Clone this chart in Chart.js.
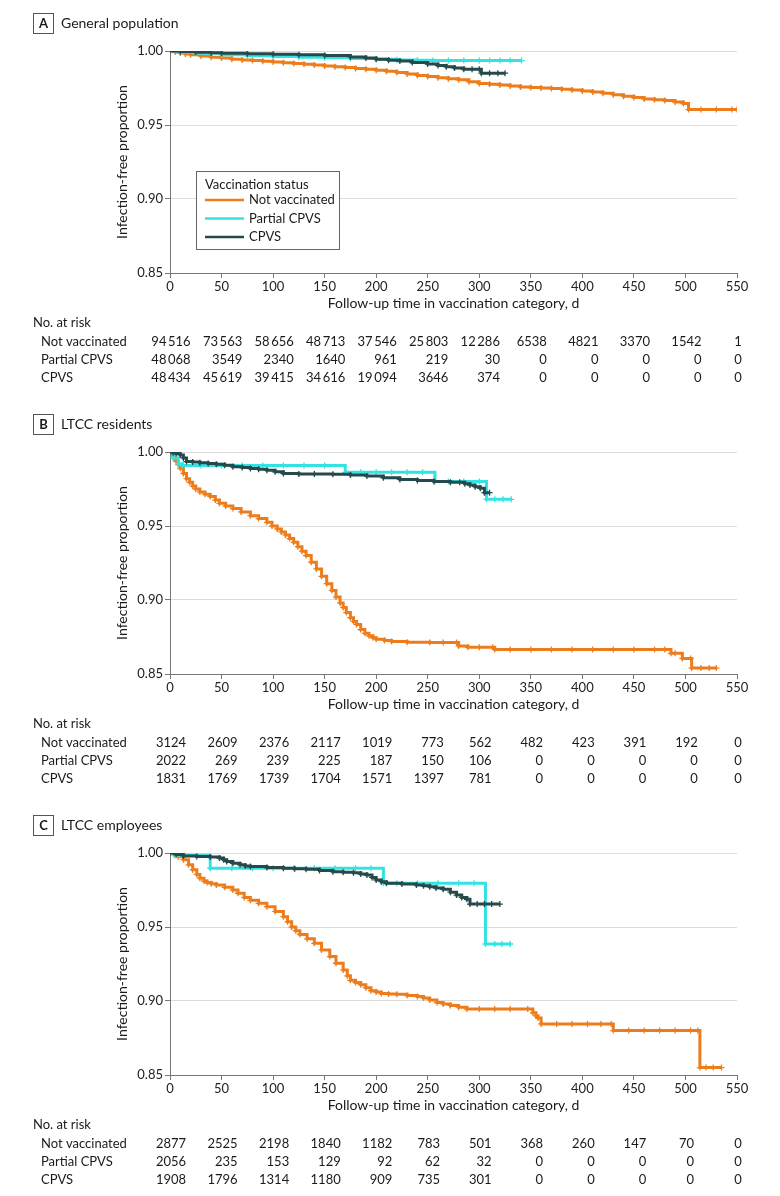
<!DOCTYPE html>
<html>
<head>
<meta charset="utf-8">
<script src="https://cdn.jsdelivr.net/npm/chart.js@4.4.1/dist/chart.umd.min.js"></script>
<style>
  html, body { margin: 0; padding: 0; background: #fff; overflow: hidden; }
  .panel { position: absolute; left: 0; width: 780px; height: 394px; }
</style>
</head>
<body>
<div class="panel" style="top:0"><canvas id="panelA"></canvas></div>
<div class="panel" style="top:401px"><canvas id="panelB"></canvas></div>
<div class="panel" style="top:802px"><canvas id="panelC"></canvas></div>
<script>
const groupLabels = ["Not vaccinated", "Partial CPVS", "CPVS"];
const groupColors = ["#ED7D1C", "#33E3E3", "#264A4B"];
const dayTicks = [0, 50, 100, 150, 200, 250, 300, 350, 400, 450, 500, 550];

// A - general population
const genNotVacDays = [0, 5, 10, 15, 20, 30, 40, 50, 60, 70, 80, 90, 100, 110, 120, 130, 140, 150, 160, 170, 180, 190, 200, 210, 220, 230, 240, 250, 260, 270, 280, 290, 300, 310, 320, 330, 340, 350, 360, 370, 380, 390, 400, 410, 420, 430, 440, 450, 460, 470, 480, 490, 498, 503, 515, 530, 545, 550];
const genNotVacProp = [1, 0.9993, 0.9986, 0.998, 0.9975, 0.9966, 0.9958, 0.9952, 0.9945, 0.994, 0.9935, 0.993, 0.9925, 0.992, 0.9915, 0.991, 0.9905, 0.9899, 0.9893, 0.9888, 0.9882, 0.9876, 0.987, 0.9863, 0.9855, 0.9845, 0.9835, 0.9828, 0.982, 0.9812, 0.9805, 0.9793, 0.978, 0.9775, 0.977, 0.9763, 0.9757, 0.9753, 0.975, 0.9746, 0.9742, 0.9737, 0.973, 0.9723, 0.9715, 0.9705, 0.9695, 0.9685, 0.9675, 0.967, 0.9665, 0.9655, 0.9645, 0.9604, 0.9604, 0.9604, 0.9604, 0.9604];
const genPartialDays = [0, 10, 25, 50, 75, 100, 125, 150, 175, 200, 220, 240, 255, 270, 285, 300, 310, 320, 330, 341];
const genPartialProp = [1, 0.9993, 0.9985, 0.9975, 0.9968, 0.9962, 0.9958, 0.9955, 0.995, 0.9945, 0.994, 0.9937, 0.9935, 0.9935, 0.9935, 0.9935, 0.9935, 0.9935, 0.9935, 0.9935];
const genCpvsDays = [0, 10, 25, 40, 50, 75, 100, 125, 150, 175, 190, 200, 212, 223, 235, 250, 260, 268, 276, 285, 293, 300, 302, 310, 318, 325];
const genCpvsProp = [1, 0.9997, 0.9992, 0.9988, 0.9985, 0.9981, 0.9978, 0.9974, 0.997, 0.996, 0.9952, 0.9945, 0.9938, 0.9932, 0.9922, 0.9912, 0.9902, 0.9893, 0.9885, 0.9876, 0.9876, 0.9876, 0.985, 0.985, 0.985, 0.985];
const genRiskNotVac = [94516, 73563, 58656, 48713, 37546, 25803, 12286, 6538, 4821, 3370, 1542, 1];
const genRiskPartial = [48068, 3549, 2340, 1640, 961, 219, 30, 0, 0, 0, 0, 0];
const genRiskCpvs = [48434, 45619, 39415, 34616, 19094, 3646, 374, 0, 0, 0, 0, 0];

// B - LTCC residents
const resNotVacDays = [0, 2, 4, 6, 8, 10, 13, 16, 19, 22, 25, 29, 34, 39, 44, 48, 54, 61, 69, 78, 86, 94, 99, 104, 108, 112, 116, 120, 124, 128, 132, 137, 142, 147, 152, 157, 161, 165, 168, 171, 175, 178, 181, 185, 189, 193, 197, 200, 208, 215, 230, 252, 265, 278, 280, 289, 300, 313, 315, 330, 350, 370, 390, 410, 430, 450, 470, 480, 486, 490, 497, 505, 506, 515, 523, 530];
const resNotVacProp = [1, 0.998, 0.996, 0.9937, 0.9915, 0.989, 0.9855, 0.982, 0.9795, 0.977, 0.975, 0.973, 0.9715, 0.97, 0.9675, 0.9653, 0.9635, 0.9618, 0.9595, 0.957, 0.955, 0.9525, 0.95, 0.948, 0.946, 0.944, 0.9415, 0.939, 0.936, 0.933, 0.93, 0.9255, 0.921, 0.916, 0.911, 0.9065, 0.902, 0.898, 0.895, 0.8915, 0.888, 0.8855, 0.8835, 0.88, 0.8775, 0.8758, 0.8745, 0.8735, 0.8727, 0.872, 0.8715, 0.8712, 0.8712, 0.8712, 0.869, 0.868, 0.868, 0.868, 0.8666, 0.8666, 0.8666, 0.8666, 0.8666, 0.8666, 0.8666, 0.8666, 0.8666, 0.8666, 0.864, 0.864, 0.8605, 0.8605, 0.854, 0.854, 0.854, 0.854];
const resPartialDays = [0, 3, 8, 12, 30, 50, 70, 90, 110, 130, 150, 170, 185, 200, 215, 230, 245, 257, 270, 285, 300, 307, 315, 323, 331];
const resPartialProp = [1, 0.996, 0.992, 0.9908, 0.9908, 0.9908, 0.9908, 0.9908, 0.9908, 0.9908, 0.9908, 0.9863, 0.9863, 0.9863, 0.9863, 0.9863, 0.9863, 0.98, 0.98, 0.98, 0.98, 0.968, 0.968, 0.968, 0.968];
const resCpvsDays = [0, 3, 6, 10, 13, 16, 22, 29, 37, 45, 53, 61, 70, 78, 86, 94, 102, 110, 125, 140, 158, 175, 191, 207, 223, 240, 256, 272, 281, 286, 291, 296, 301, 305, 310];
const resCpvsProp = [1, 0.9995, 0.999, 0.998, 0.996, 0.9935, 0.9932, 0.9928, 0.9923, 0.9917, 0.991, 0.99, 0.9895, 0.9888, 0.9883, 0.9877, 0.9866, 0.9854, 0.9852, 0.9851, 0.985, 0.9845, 0.9837, 0.9826, 0.9815, 0.9808, 0.9801, 0.9795, 0.9795, 0.9786, 0.9777, 0.9766, 0.9755, 0.9725, 0.9725];
const resRiskNotVac = [3124, 2609, 2376, 2117, 1019, 773, 562, 482, 423, 391, 192, 0];
const resRiskPartial = [2022, 269, 239, 225, 187, 150, 106, 0, 0, 0, 0, 0];
const resRiskCpvs = [1831, 1769, 1739, 1704, 1571, 1397, 781, 0, 0, 0, 0, 0];

// C - LTCC employees
const empNotVacDays = [0, 4, 8, 13, 18, 22, 26, 29, 33, 36, 40, 45, 53, 61, 66, 72, 78, 86, 94, 102, 110, 114, 118, 122, 126, 133, 140, 147, 155, 161, 168, 172, 175, 180, 185, 190, 195, 200, 205, 212, 220, 230, 240, 246, 252, 259, 265, 272, 280, 288, 300, 315, 330, 347, 352, 355, 357, 360, 375, 390, 405, 418, 428, 430, 445, 460, 475, 490, 505, 512, 514, 520, 527, 535];
const empNotVacProp = [1, 0.9988, 0.9975, 0.9955, 0.992, 0.9887, 0.9855, 0.983, 0.981, 0.98, 0.9792, 0.9784, 0.9768, 0.975, 0.9728, 0.97, 0.968, 0.966, 0.9637, 0.9605, 0.957, 0.9535, 0.95, 0.9475, 0.945, 0.942, 0.939, 0.9345, 0.93, 0.9255, 0.921, 0.917, 0.914, 0.9125, 0.911, 0.909, 0.907, 0.906, 0.905, 0.9048, 0.9045, 0.9038, 0.903, 0.902, 0.9007, 0.899, 0.898, 0.897, 0.8958, 0.8946, 0.8946, 0.8946, 0.8946, 0.8946, 0.892, 0.89, 0.8885, 0.8845, 0.8845, 0.8845, 0.8845, 0.8845, 0.8845, 0.88, 0.88, 0.88, 0.88, 0.88, 0.88, 0.88, 0.855, 0.855, 0.855, 0.855];
const empPartialDays = [0, 5, 15, 25, 39, 60, 80, 100, 120, 140, 160, 180, 195, 207, 220, 240, 260, 280, 295, 306, 315, 322, 330];
const empPartialProp = [1, 0.9985, 0.9985, 0.9985, 0.9897, 0.9897, 0.9897, 0.9897, 0.9897, 0.9897, 0.9897, 0.9897, 0.9897, 0.9795, 0.9795, 0.9795, 0.9795, 0.9795, 0.9795, 0.9385, 0.9385, 0.9385, 0.9385];
const empCpvsDays = [0, 6, 13, 26, 39, 48, 52, 55, 61, 68, 73, 78, 94, 110, 121, 132, 145, 158, 168, 178, 185, 191, 196, 200, 205, 210, 225, 239, 246, 252, 258, 265, 272, 278, 283, 288, 291, 298, 305, 312, 320];
const empCpvsProp = [1, 0.999, 0.998, 0.9977, 0.9973, 0.9966, 0.9955, 0.9943, 0.993, 0.992, 0.9913, 0.9908, 0.9902, 0.9897, 0.9894, 0.989, 0.9882, 0.9874, 0.987, 0.9867, 0.9858, 0.9851, 0.9835, 0.9818, 0.9806, 0.9795, 0.979, 0.9784, 0.9778, 0.9772, 0.9763, 0.9755, 0.9735, 0.9716, 0.97, 0.9687, 0.9655, 0.9655, 0.9655, 0.9655, 0.9655];
const empRiskNotVac = [2877, 2525, 2198, 1840, 1182, 783, 501, 368, 260, 147, 70, 0];
const empRiskPartial = [2056, 235, 153, 129, 92, 62, 32, 0, 0, 0, 0, 0];
const empRiskCpvs = [1908, 1796, 1314, 1180, 909, 735, 301, 0, 0, 0, 0, 0];

const FONT = "Lato, 'Open Sans', sans-serif";
const ROW_Y = [69, 87, 105];

function fmt(v) {
  // thin space for 5 digit numbers, like the journal style
  return v >= 10000 ? String(v).replace(/(\d)(?=(\d{3})+$)/g, "$1\u2009") : String(v);
}

function curve(i, days, prop) {
  return {
    label: groupLabels[i],
    data: days.map((d, k) => ({ x: d, y: prop[k] })),
    borderColor: groupColors[i],
    backgroundColor: groupColors[i],
    borderWidth: 3,
    stepped: "before",
    pointStyle: "cross",
    pointRadius: 3,
    pointBorderWidth: 1.3,
    pointBorderColor: groupColors[i],
    fill: false,
    order: 3 - i,
  };
}

const panelExtras = {
  id: "panelExtras",
  afterDraw(chart, args, opts) {
    const ctx = chart.ctx;
    const xs = chart.scales.x;
    const bottom = chart.chartArea.bottom;
    ctx.save();
    ctx.fillStyle = "#1a1a1a";
    ctx.textBaseline = "middle";

    // panel letter + title
    ctx.strokeStyle = "#555";
    ctx.lineWidth = 1;
    ctx.strokeRect(33.5, 13.5, 20, 20);
    ctx.font = "bold 13px " + FONT;
    ctx.textAlign = "center";
    ctx.fillText(opts.letter, 43.5, 24);
    ctx.font = "14px " + FONT;
    ctx.textAlign = "left";
    ctx.fillText(opts.title, 61, 23);

    // number at risk
    ctx.font = "13px " + FONT;
    ctx.fillText("No. at risk", 33, bottom + 50);
    opts.risk.forEach((row, r) => ctx.fillText(groupLabels[r], 41, bottom + ROW_Y[r]));
    ctx.textAlign = "right";
    dayTicks.forEach((d, c) => {
      const cells = opts.risk.map(row => fmt(row[c]));
      const w = Math.max(...cells.map(s => ctx.measureText(s).width));
      const right = xs.getPixelForValue(d) + w / 2 + 1;
      cells.forEach((s, r) => ctx.fillText(s, right, bottom + ROW_Y[r]));
    });

    // legend (panel A only)
    if (opts.legend) {
      const lx = 196, ly = 171;
      ctx.fillStyle = "#fff";
      ctx.fillRect(lx, ly, 143, 78);
      ctx.strokeStyle = "#666";
      ctx.strokeRect(lx + 0.5, ly + 0.5, 143, 78);
      ctx.fillStyle = "#1a1a1a";
      ctx.textAlign = "left";
      ctx.font = "13px " + FONT;
      ctx.fillText("Vaccination status", lx + 9, ly + 14);
      groupLabels.forEach((g, i) => {
        const y = ly + 29 + i * 18.5;
        ctx.strokeStyle = groupColors[i];
        ctx.lineWidth = 2.5;
        ctx.beginPath();
        ctx.moveTo(lx + 9, y);
        ctx.lineTo(lx + 48, y);
        ctx.stroke();
        ctx.fillText(g, lx + 53, y);
      });
    }
    ctx.restore();
  },
};

function makePanel(id, letter, title, series, risk, legend) {
  new Chart(document.getElementById(id), {
    type: "line",
    data: {
      datasets: series.map((s, i) => curve(i, s[0], s[1])),
    },
    options: {
      responsive: true,
      maintainAspectRatio: false,
      animation: false,
      layout: { padding: { top: 51, left: 114, right: 43, bottom: 82 } },
      plugins: {
        legend: { display: false },
        tooltip: { enabled: false },
        panelExtras: { letter: letter, title: title, risk: risk, legend: legend },
      },
      scales: {
        x: {
          type: "linear",
          min: 0,
          max: 550,
          afterFit: (s) => { s.height = 39; },
          ticks: { stepSize: 50, padding: 1, color: "#222", font: { family: FONT, size: 13 } },
          grid: { drawOnChartArea: false, tickLength: 5, tickColor: "#777" },
          border: { color: "#777" },
          title: {
            display: true,
            text: "Follow-up time in vaccination category, d",
            color: "#1a1a1a",
            padding: 0,
            font: { family: FONT, size: 14 },
          },
        },
        y: {
          min: 0.85,
          max: 1,
          afterFit: (s) => { s.width = 56; },
          ticks: {
            stepSize: 0.05,
            padding: 2,
            color: "#222",
            font: { family: FONT, size: 13 },
            callback: (v) => v.toFixed(2),
          },
          grid: { color: "#dcdcdc", tickLength: 5, tickColor: "#777" },
          border: { color: "#777" },
          title: {
            display: true,
            text: "Infection-free proportion",
            color: "#1a1a1a",
            padding: { top: 0, bottom: 0 },
            font: { family: FONT, size: 14 },
          },
        },
      },
    },
    plugins: [panelExtras],
  });
}

makePanel("panelA", "A", "General population",
  [[genNotVacDays, genNotVacProp], [genPartialDays, genPartialProp], [genCpvsDays, genCpvsProp]],
  [genRiskNotVac, genRiskPartial, genRiskCpvs], true);
makePanel("panelB", "B", "LTCC residents",
  [[resNotVacDays, resNotVacProp], [resPartialDays, resPartialProp], [resCpvsDays, resCpvsProp]],
  [resRiskNotVac, resRiskPartial, resRiskCpvs], false);
makePanel("panelC", "C", "LTCC employees",
  [[empNotVacDays, empNotVacProp], [empPartialDays, empPartialProp], [empCpvsDays, empCpvsProp]],
  [empRiskNotVac, empRiskPartial, empRiskCpvs], false);
</script>
</body>
</html>
